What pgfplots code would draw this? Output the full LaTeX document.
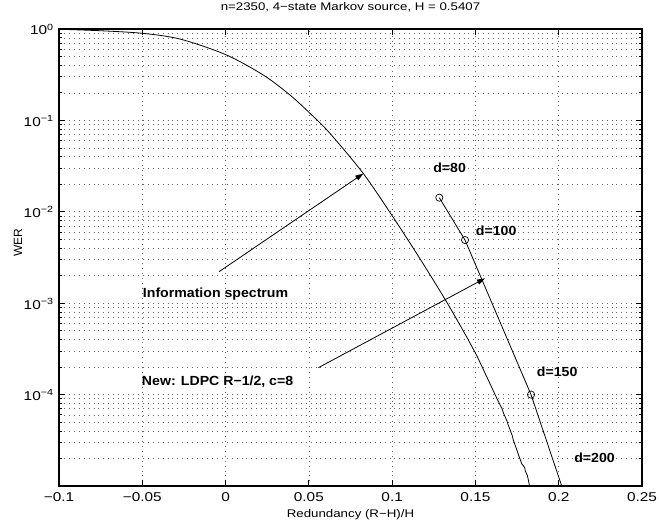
\documentclass[border=0pt]{standalone}
\usepackage{fontspec}
\setmainfont{Liberation Sans}[FakeStretch=1.2]
\newfontfamily\annfont{Liberation Sans}[FakeStretch=1.07]
\newfontfamily\vfont{Liberation Sans}
\usepackage{pgfplots}
\pgfplotsset{compat=1.18}
\usetikzlibrary{arrows.meta}
\begin{document}
\begin{tikzpicture}
\useasboundingbox (0,0) rectangle (494.25pt,390pt);
\begin{axis}[
  at={(44.25pt,25.5pt)}, anchor=south west,
  scale only axis, width=437.25pt, height=342.75pt,
  xmin=-0.1, xmax=0.25, ymode=log, ymin=1e-5, ymax=1,
  xtick={-0.1,-0.05,0,0.05,0.1,0.15,0.2,0.25},
  xticklabels={−0.1,−0.05,0,0.05,0.1,0.15,0.2,0.25},
  ytick={1e-4,1e-3,1e-2,1e-1,1},
  yticklabels={10\textsuperscript{−4},10\textsuperscript{−3},10\textsuperscript{−2},10\textsuperscript{−1},10\textsuperscript{0}},
  minor ytick={2e-5,3e-5,4e-5,5e-5,6e-5,7e-5,8e-5,9e-5,2e-4,3e-4,4e-4,5e-4,6e-4,7e-4,8e-4,9e-4,2e-3,3e-3,4e-3,5e-3,6e-3,7e-3,8e-3,9e-3,2e-2,3e-2,4e-2,5e-2,6e-2,7e-2,8e-2,9e-2,2e-1,3e-1,4e-1,5e-1,6e-1,7e-1,8e-1,9e-1},
  grid=both,
  major grid style={black!60, line width=0.45pt, dash pattern=on 0.5pt off 3.2pt},
  minor grid style={black!60, line width=0.45pt, dash pattern=on 0.5pt off 3.2pt},
  tick align=inside, tick pos=both,
  axis line style={line width=0.8pt},
  major tick length=4.5pt, minor tick length=2.5pt,
  every tick/.style={black, line width=0.6pt},
  ticklabel style={font=\fontsize{9.6}{11}\selectfont},
  xticklabel style={anchor=base, yshift=-11.5pt, inner sep=0pt},
  yticklabel style={anchor=base east, yshift=-4.5pt, xshift=-3.75pt, inner sep=0pt},
  title={n=2350, 4−state Markov source, H = 0.5407},
  title style={at={(0.5,1)}, anchor=base, yshift=7.5pt, inner sep=0pt, font=\fontsize{8.3}{9}\selectfont},
  xlabel={Redundancy (R−H)/H},
  xlabel style={at={(axis description cs:0.5,0)}, anchor=base, yshift=-23.5pt, inner sep=0pt, font=\fontsize{8.3}{9}\selectfont},
  ylabel={WER},
  ylabel style={at={(axis description cs:-0.0703,0.532)}, anchor=center, inner sep=0pt, font=\vfont\fontsize{9}{10}\selectfont},
]
% Information spectrum
\addplot[black, line width=0.6pt, smooth, tension=0.5] coordinates {
(-0.1,0.993) (-0.075,0.957) (-0.05,0.897) (-0.0274,0.777) (0,0.525)
(0.0226,0.314) (0.0386,0.190) (0.0506,0.120) (0.0626,0.0724) (0.0827,0.0262)
(0.1004,0.00883) (0.1166,0.00309) (0.1326,0.00104) (0.1454,4.07e-4) (0.1508,2.67e-4)
(0.1636,8.5e-5)
};
\addplot[black, line width=0.6pt] coordinates {
(0.1636,8.5e-5) (0.1660,7.0e-5) (0.1668,6.3e-5) (0.1690,5.1e-5) (0.1696,4.7e-5)
(0.1720,3.6e-5) (0.1727,3.2e-5) (0.1748,2.5e-5) (0.1760,2.15e-5) (0.1772,1.88e-5)
(0.1778,1.75e-5) (0.1795,1.6e-5) (0.1800,1.45e-5) (0.1812,1.3e-5) (0.1817,1.18e-5)
(0.1825,1.0e-5)
};
% LDPC
\addplot[black, line width=0.6pt] coordinates {
(0.12831,0.01427) (0.14374,0.00491) (0.18337,1.0e-4) (0.2018,1.0e-5)
};
\addplot[black, only marks, mark=o, mark size=2.7pt, mark options={line width=0.5pt}] coordinates {
(0.12831,0.01427) (0.14374,0.00491) (0.18337,1.0e-4)
};
\draw[black, line width=0.6pt, -{Triangle[length=6pt,width=4pt]}] (axis cs:-0.00394,2.21e-3) -- (axis cs:0.0827,0.0262);
\draw[black, line width=0.6pt, -{Triangle[length=6pt,width=4pt]}] (axis cs:0.0557,1.97e-4) -- (axis cs:0.1557,1.87e-3);
\begin{scope}[every node/.style={anchor=base west, inner sep=0pt, font=\annfont\bfseries\fontsize{9.9}{11}\selectfont}]
\node at (axis cs:-0.04975,1.161e-3) {Information spectrum};
\node at (axis cs:-0.05035,1.273e-4) {New: LDPC R−1/2, c=8};
\node at (axis cs:0.12453,0.02725) {d=80};
\node at (axis cs:0.15016,5.57e-3) {d=100};
\node at (axis cs:0.18679,1.56e-4) {d=150};
\node at (axis cs:0.20918,1.79e-5) {d=200};
\end{scope}
\end{axis}
\end{tikzpicture}
\end{document}
